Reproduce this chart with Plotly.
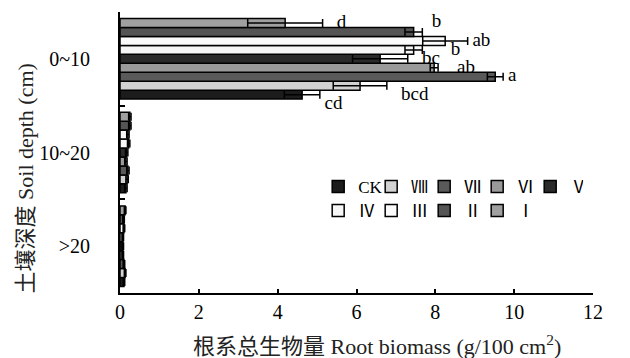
import plotly.graph_objects as go

categories = ['0~10', '10~20', '>20']
series = ['CK', 'Ⅷ', 'Ⅶ', 'Ⅵ', 'Ⅴ', 'Ⅳ', 'Ⅲ', 'Ⅱ', 'Ⅰ']
values = {
    'CK': [4.62, 0.15, 0.10],
    'Ⅷ': [6.09, 0.18, 0.13],
    'Ⅶ': [9.52, 0.20, 0.10],
    'Ⅵ': [7.97, 0.15, 0.07],
    'Ⅴ': [6.60, 0.17, 0.07],
    'Ⅳ': [7.45, 0.22, 0.07],
    'Ⅲ': [8.25, 0.20, 0.10],
    'Ⅱ': [7.45, 0.25, 0.09],
    'Ⅰ': [4.19, 0.25, 0.13],
}
errors = {
    'CK': [0.45, 0.03, 0.02],
    'Ⅷ': [0.68, 0.03, 0.02],
    'Ⅶ': [0.20, 0.03, 0.02],
    'Ⅵ': [0.10, 0.03, 0.02],
    'Ⅴ': [0.70, 0.03, 0.02],
    'Ⅳ': [0.22, 0.03, 0.02],
    'Ⅲ': [0.57, 0.03, 0.02],
    'Ⅱ': [0.22, 0.03, 0.02],
    'Ⅰ': [0.95, 0.03, 0.02],
}
letters = {'CK': 'cd', 'Ⅷ': 'bcd', 'Ⅶ': 'a', 'Ⅵ': 'ab', 'Ⅴ': 'bc',
           'Ⅳ': 'b', 'Ⅲ': 'ab', 'Ⅱ': 'b', 'Ⅰ': 'd'}
letter_pad = {'CK': 1, 'Ⅷ': 3, 'Ⅶ': 1, 'Ⅵ': 4, 'Ⅴ': 3,
              'Ⅳ': 6, 'Ⅲ': 1, 'Ⅱ': 2, 'Ⅰ': 3}
letter_pos = {'CK': 'bottom right', 'Ⅷ': 'bottom right', 'Ⅶ': 'middle right',
              'Ⅵ': 'middle right', 'Ⅴ': 'middle right', 'Ⅳ': 'middle right',
              'Ⅲ': 'middle right', 'Ⅱ': 'top right', 'Ⅰ': 'middle right'}
colors = {'CK': '#1c1c1c', 'Ⅷ': '#d2d2d2', 'Ⅶ': '#5a5a5a', 'Ⅵ': '#9a9a9a',
          'Ⅴ': '#2a2a2a', 'Ⅳ': '#f6f6f6', 'Ⅲ': '#fbfbfb', 'Ⅱ': '#555555',
          'Ⅰ': '#a0a0a0'}

FONT = 'Liberation Serif, Times New Roman, Noto Sans CJK SC, serif'

fig = go.Figure()
for i, s in enumerate(series):
    fig.add_trace(go.Bar(
        name=s, y=categories, x=values[s], orientation='h',
        marker=dict(color=colors[s], line=dict(color='black', width=1.5)),
        error_x=dict(type='data', array=errors[s], color='black', thickness=1.5, width=4),
        offsetgroup=s,
        legend='legend' if i < 5 else 'legend2',
    ))

for s in series:
    fig.add_trace(go.Scatter(
        y=[categories[0]], x=[values[s][0] + errors[s][0]],
        mode='text', text=['\u00a0' * letter_pad[s] + letters[s]],
        textposition=letter_pos[s],
        textfont=dict(family=FONT, size=19, color='black'),
        orientation='h', offsetgroup=s, showlegend=False, hoverinfo='skip',
        cliponaxis=False,
    ))

legend_common = dict(orientation='h', xanchor='left', yanchor='middle',
                     font=dict(size=17), entrywidth=8, itemwidth=30,
                     bgcolor='rgba(0,0,0,0)', tracegroupgap=0)

fig.update_layout(
    width=630, height=358,
    margin=dict(l=112, r=45, t=4, b=73, autoexpand=False),
    paper_bgcolor='white', plot_bgcolor='white',
    barmode='group', bargap=0.14, bargroupgap=0,
    scattermode='group', scattergap=0.14,
    font=dict(family=FONT, size=18, color='black'),
    showlegend=True,
    legend=dict(x=0.419, y=0.377, **legend_common),
    legend2=dict(x=0.419, y=0.292, **legend_common),
    xaxis=dict(range=[0, 12], dtick=2, tick0=0, showgrid=False, zeroline=False,
               showline=True, linecolor='black', linewidth=2,
               ticks='inside', ticklen=4, tickwidth=1.5, tickcolor='black',
               tickfont=dict(size=20)),
    yaxis=dict(type='category', categoryorder='array',
               categoryarray=['>20', '10~20', '0~10'],
               showgrid=False, zeroline=False, showline=True, linecolor='black',
               linewidth=2, ticks='inside', tickson='boundaries', ticklen=5,
               tickwidth=1.5, tickcolor='black', tickfont=dict(size=20),
               ticklabelstandoff=24),
    annotations=[
        dict(text='根系总生物量 Root biomass (g/100 cm<sup>2</sup>)', xref='paper', yref='paper',
             x=0.543, y=-0.185, xanchor='center', yanchor='middle', showarrow=False,
             font=dict(family=FONT, size=22, color='#222')),
        dict(text='土壤深度 Soil depth (cm)', xref='paper', yref='paper',
             x=-0.20, y=0.409, xanchor='center', yanchor='middle', showarrow=False,
             textangle=-90, font=dict(family=FONT, size=22, color='#222')),
    ],
)

fig.write_html('out.html')
